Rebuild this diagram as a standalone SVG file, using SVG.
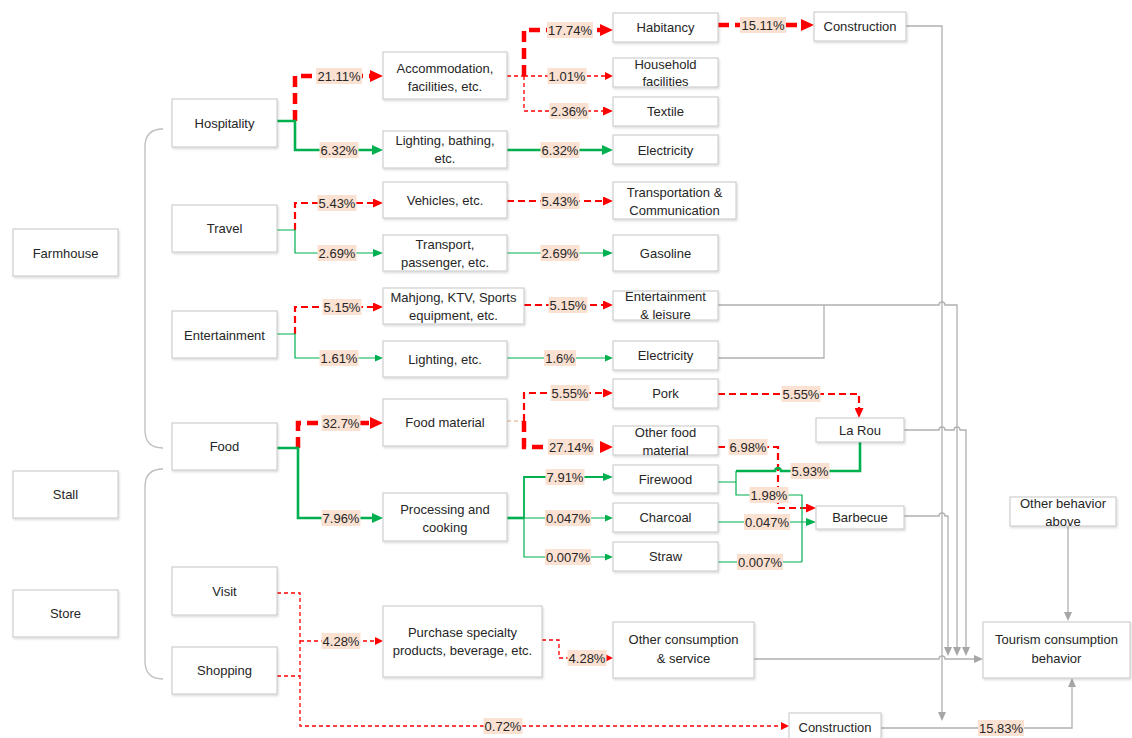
<svg xmlns="http://www.w3.org/2000/svg" width="1132" height="738" viewBox="0 0 1132 738">
<defs>
<filter id="sh" x="-10%" y="-10%" width="130%" height="140%"><feDropShadow dx="1" dy="1.5" stdDeviation="1" flood-color="#000" flood-opacity="0.15"/></filter>
<marker id="rB" markerUnits="userSpaceOnUse" markerWidth="13" markerHeight="12" refX="2" refY="6" orient="auto"><path d="M0,0 L13,6 L0,12 z" fill="#f00"/></marker>
<marker id="rM" markerUnits="userSpaceOnUse" markerWidth="10" markerHeight="9" refX="2" refY="4.5" orient="auto"><path d="M0,0 L10,4.5 L0,9 z" fill="#f00"/></marker>
<marker id="rS" markerUnits="userSpaceOnUse" markerWidth="8" markerHeight="8" refX="2" refY="4" orient="auto"><path d="M0,0 L8,4 L0,8 z" fill="#f00"/></marker>
<marker id="gB" markerUnits="userSpaceOnUse" markerWidth="11" markerHeight="10" refX="2" refY="5" orient="auto"><path d="M0,0 L11,5 L0,10 z" fill="#00b050"/></marker>
<marker id="gM" markerUnits="userSpaceOnUse" markerWidth="10" markerHeight="8" refX="2" refY="4" orient="auto"><path d="M0,0 L10,4 L0,8 z" fill="#00b050"/></marker>
<marker id="gS" markerUnits="userSpaceOnUse" markerWidth="8" markerHeight="7" refX="2" refY="3.5" orient="auto"><path d="M0,0 L8,3.5 L0,7 z" fill="#00b050"/></marker>
<marker id="ay" markerUnits="userSpaceOnUse" markerWidth="9" markerHeight="8" refX="2" refY="4" orient="auto"><path d="M0,0 L9,4 L0,8 z" fill="#a6a6a6"/></marker>
</defs>
<style>
.node rect{fill:#fff;stroke:#c6c6c6;stroke-width:1;filter:url(#sh)}
text{font-family:"Liberation Sans",Arial,sans-serif;font-size:13px;fill:#262626;text-anchor:middle}
.c path{fill:none}
.rT{stroke:#f00;stroke-width:4.5;stroke-dasharray:11 6}
.rM{stroke:#f00;stroke-width:2.2;stroke-dasharray:7 4}
.rS{stroke:#f00;stroke-width:1.3;stroke-dasharray:4 3}
.gT{stroke:#00b050;stroke-width:2.6}
.gM{stroke:#00b050;stroke-width:1.8}
.gS{stroke:#00b050;stroke-width:1.2}
.gy{stroke:#b0b0b0;stroke-width:1.3}
.tan{stroke:#d9a77f;stroke-width:1;stroke-dasharray:4 3}
.lbl rect{fill:#fbe1d2}
.brace{fill:none;stroke:#bdbdbd;stroke-width:1.3}
</style>
<rect width="1132" height="738" fill="#fff"/>
<g id="braces">
<path class="brace" d="M163,129 Q145,129 145,147 V430 Q145,448 163,448"/>
<path class="brace" d="M163,469 Q145,469 145,487 V661 Q145,679 163,679"/>
</g>
<g id="connectors" class="c">
<path class="rT" d="M295,121 V76 H372" marker-end="url(#rB)"/>
<path class="gT" d="M277,121 H295 V150 H374" marker-end="url(#gB)"/>
<path class="rM" d="M295,230 V203 H375" marker-end="url(#rM)"/>
<path class="gS" d="M277,230 H295 V253 H375" marker-end="url(#gM)"/>
<path class="rM" d="M295,334 V307 H375" marker-end="url(#rM)"/>
<path class="gS" d="M277,334 H295 V358 H377" marker-end="url(#gS)"/>
<path class="rT" d="M298,448 V423 H372" marker-end="url(#rB)"/>
<path class="gT" d="M277,448 H298 V518 H374" marker-end="url(#gB)"/>
<path class="rS" d="M277,593 H300 V726 H783" marker-end="url(#rS)"/>
<path class="rS" d="M277,676 H300"/>
<path class="rS" d="M300,641 H377" marker-end="url(#rS)"/>
<path class="rS" d="M542,640 H559 V658 H607" marker-end="url(#rS)"/>
<path class="rS" d="M507,76 H524"/>
<path class="rT" d="M524,76 V30 H602" marker-end="url(#rB)"/>
<path class="rS" d="M524,76 H607" marker-end="url(#rS)"/>
<path class="rS" d="M524,76 V111 H605" marker-end="url(#rM)"/>
<path class="gT" d="M507,150 H604" marker-end="url(#gB)"/>
<path class="rM" d="M507,201 H605" marker-end="url(#rM)"/>
<path class="gS" d="M507,253 H605" marker-end="url(#gM)"/>
<path class="rM" d="M524,305 H605" marker-end="url(#rM)"/>
<path class="gS" d="M507,358 H607" marker-end="url(#gS)"/>
<path class="tan" d="M507,421 H524"/>
<path class="rM" d="M524,421 V393 H605" marker-end="url(#rM)"/>
<path class="rT" d="M524,421 V447 H602" marker-end="url(#rB)"/>
<path class="gT" d="M507,518 H524"/>
<path class="gM" d="M524,518 V477 H605" marker-end="url(#gM)"/>
<path class="gS" d="M524,518 H607" marker-end="url(#gS)"/>
<path class="gS" d="M524,518 V557 H607" marker-end="url(#gS)"/>
<path class="rT" d="M718,25 H803" marker-end="url(#rB)"/>
<path class="rM" d="M718,394 H859 V410" marker-end="url(#rM)"/>
<path class="rM" d="M718,447 H778 V508 H808" marker-end="url(#rM)"/>
<path class="gS" d="M718,482 H736 V471"/>
<path class="gT" d="M736,471 H775 a3,3 0 0 1 6,0 H860 V433" marker-end="url(#gB)"/>
<path class="gS" d="M736,482 V495 H802 V562"/>
<path class="gS" d="M718,522 H808" marker-end="url(#gM)"/>
<path class="gS" d="M718,562 H802"/>
<path class="gy" d="M906,26 H942 V714" marker-end="url(#ay)"/>
<path class="gy" d="M718,305 H939 a3,3 0 0 1 6,0 H957 V649" marker-end="url(#ay)"/>
<path class="gy" d="M718,358 H824 V305"/>
<path class="gy" d="M904,430 H939 a3,3 0 0 1 6,0 H954 a3,3 0 0 1 6,0 H966 V649" marker-end="url(#ay)"/>
<path class="gy" d="M904,516 H939 a3,3 0 0 1 6,0 H948 V649" marker-end="url(#ay)"/>
<path class="gy" d="M754,659 H939 a3,3 0 0 1 6,0 H976" marker-end="url(#ay)"/>
<path class="gy" d="M881,728 H1072 V685" marker-end="url(#ay)"/>
<path class="gy" d="M1068,526 V614" marker-end="url(#ay)"/>
<g class="lbl">
<rect x="316" y="68" width="46" height="16"/><text x="339" y="80.5">21.11%</text>
<rect x="319.5" y="142" width="39" height="16"/><text x="339" y="154.5">6.32%</text>
<rect x="317.5" y="195" width="39" height="16"/><text x="337" y="207.5">5.43%</text>
<rect x="317.5" y="245" width="39" height="16"/><text x="337" y="257.5">2.69%</text>
<rect x="322.5" y="299" width="39" height="16"/><text x="342" y="311.5">5.15%</text>
<rect x="319.5" y="350" width="39" height="16"/><text x="339" y="362.5">1.61%</text>
<rect x="321.5" y="415" width="39" height="16"/><text x="341" y="427.5">32.7%</text>
<rect x="321.5" y="510" width="39" height="16"/><text x="341" y="522.5">7.96%</text>
<rect x="321.5" y="633" width="39" height="16"/><text x="341" y="645.5">4.28%</text>
<rect x="547" y="22" width="46" height="16"/><text x="570" y="34.5">17.74%</text>
<rect x="547.5" y="68" width="39" height="16"/><text x="567" y="80.5">1.01%</text>
<rect x="549.5" y="103" width="39" height="16"/><text x="569" y="115.5">2.36%</text>
<rect x="540.5" y="142" width="39" height="16"/><text x="560" y="154.5">6.32%</text>
<rect x="540.5" y="193" width="39" height="16"/><text x="560" y="205.5">5.43%</text>
<rect x="540.5" y="245" width="39" height="16"/><text x="560" y="257.5">2.69%</text>
<rect x="548.5" y="297" width="39" height="16"/><text x="568" y="309.5">5.15%</text>
<rect x="544" y="350" width="32" height="16"/><text x="560" y="362.5">1.6%</text>
<rect x="550.5" y="385" width="39" height="16"/><text x="570" y="397.5">5.55%</text>
<rect x="548" y="439" width="46" height="16"/><text x="571" y="451.5">27.14%</text>
<rect x="545.5" y="469" width="39" height="16"/><text x="565" y="481.5">7.91%</text>
<rect x="545" y="510" width="46" height="16"/><text x="568" y="522.5">0.047%</text>
<rect x="545" y="549" width="46" height="16"/><text x="568" y="561.5">0.007%</text>
<rect x="567.5" y="650" width="39" height="16"/><text x="587" y="662.5">4.28%</text>
<rect x="483.5" y="718" width="39" height="16"/><text x="503" y="730.5">0.72%</text>
<rect x="740" y="17" width="46" height="16"/><text x="763" y="29.5">15.11%</text>
<rect x="781.5" y="386" width="39" height="16"/><text x="801" y="398.5">5.55%</text>
<rect x="728.5" y="439" width="39" height="16"/><text x="748" y="451.5">6.98%</text>
<rect x="790.5" y="463" width="39" height="16"/><text x="810" y="475.5">5.93%</text>
<rect x="749.5" y="487" width="39" height="16"/><text x="769" y="499.5">1.98%</text>
<rect x="744" y="514" width="46" height="16"/><text x="767" y="526.5">0.047%</text>
<rect x="737" y="554" width="46" height="16"/><text x="760" y="566.5">0.007%</text>
<rect x="978" y="720" width="46" height="16"/><text x="1001" y="732.5">15.83%</text>
</g>
</g>
<g id="n-farmhouse" class="node"><rect x="13" y="229" width="105" height="47"/><text x="65.5" y="257.5">Farmhouse</text></g>
<g id="n-stall" class="node"><rect x="13" y="471" width="105" height="47"/><text x="65.5" y="498.5">Stall</text></g>
<g id="n-store" class="node"><rect x="13" y="590" width="105" height="47"/><text x="65.5" y="617.5">Store</text></g>
<g id="n-hospitality" class="node"><rect x="172" y="99" width="105" height="48"/><text x="224.5" y="127.5">Hospitality</text></g>
<g id="n-travel" class="node"><rect x="172" y="205" width="105" height="47"/><text x="224.5" y="232.5">Travel</text></g>
<g id="n-entertainment" class="node"><rect x="172" y="311" width="105" height="47"/><text x="224.5" y="339.5">Entertainment</text></g>
<g id="n-food" class="node"><rect x="172" y="423" width="105" height="47"/><text x="224.5" y="450.5">Food</text></g>
<g id="n-visit" class="node"><rect x="172" y="567" width="105" height="48"/><text x="224.5" y="595.5">Visit</text></g>
<g id="n-shopping" class="node"><rect x="172" y="647" width="105" height="47"/><text x="224.5" y="674.5">Shopping</text></g>
<g id="n-accommodation" class="node"><rect x="383" y="52" width="124" height="47"/><text x="445" y="72.5">Accommodation,</text><text x="445" y="90.5">facilities, etc.</text></g>
<g id="n-lighting-bathing" class="node"><rect x="383" y="131" width="124" height="37"/><text x="445" y="144.5">Lighting, bathing,</text><text x="445" y="162.5">etc.</text></g>
<g id="n-vehicles" class="node"><rect x="383" y="182" width="124" height="36"/><text x="445" y="204.5">Vehicles, etc.</text></g>
<g id="n-transport" class="node"><rect x="383" y="235" width="124" height="36"/><text x="445" y="248.5">Transport,</text><text x="445" y="266.5">passenger, etc.</text></g>
<g id="n-mahjong" class="node"><rect x="383" y="288" width="141" height="36"/><text x="453.5" y="301.5">Mahjong, KTV, Sports</text><text x="453.5" y="319.5">equipment, etc.</text></g>
<g id="n-lighting" class="node"><rect x="383" y="341" width="124" height="36"/><text x="445" y="363.5">Lighting, etc.</text></g>
<g id="n-food-material" class="node"><rect x="383" y="399" width="124" height="47"/><text x="445" y="426.5">Food material</text></g>
<g id="n-processing" class="node"><rect x="383" y="493" width="124" height="48"/><text x="445" y="513.5">Processing and</text><text x="445" y="531.5">cooking</text></g>
<g id="n-purchase" class="node"><rect x="383" y="606" width="159" height="71"/><text x="462.5" y="636.5">Purchase specialty</text><text x="462.5" y="654.5">products, beverage, etc.</text></g>
<g id="n-habitancy" class="node"><rect x="613" y="13" width="105" height="29"/><text x="665.5" y="31.5">Habitancy</text></g>
<g id="n-household" class="node"><rect x="613" y="58" width="105" height="29"/><text x="665.5" y="69">Household</text><text x="665.5" y="86">facilities</text></g>
<g id="n-textile" class="node"><rect x="613" y="97" width="105" height="29"/><text x="665.5" y="115.5">Textile</text></g>
<g id="n-electricity1" class="node"><rect x="613" y="135" width="105" height="29"/><text x="665.5" y="154.5">Electricity</text></g>
<g id="n-transportation" class="node"><rect x="613" y="182" width="123" height="37"/><text x="674.5" y="197">Transportation &amp;</text><text x="674.5" y="214.5">Communication</text></g>
<g id="n-gasoline" class="node"><rect x="613" y="235" width="105" height="36"/><text x="665.5" y="257.5">Gasoline</text></g>
<g id="n-ent-leisure" class="node"><rect x="613" y="291" width="105" height="29"/><text x="665.5" y="300.5">Entertainment</text><text x="665.5" y="318.5">&amp; leisure</text></g>
<g id="n-electricity2" class="node"><rect x="613" y="341" width="105" height="29"/><text x="665.5" y="359.5">Electricity</text></g>
<g id="n-pork" class="node"><rect x="613" y="379" width="105" height="29"/><text x="665.5" y="397.5">Pork</text></g>
<g id="n-other-food" class="node"><rect x="613" y="426" width="105" height="29"/><text x="665.5" y="436.5">Other food</text><text x="665.5" y="454.5">material</text></g>
<g id="n-firewood" class="node"><rect x="613" y="465" width="105" height="28"/><text x="665.5" y="483.5">Firewood</text></g>
<g id="n-charcoal" class="node"><rect x="613" y="503" width="105" height="29"/><text x="665.5" y="521.5">Charcoal</text></g>
<g id="n-straw" class="node"><rect x="613" y="542" width="105" height="29"/><text x="665.5" y="560.5">Straw</text></g>
<g id="n-other-consumption" class="node"><rect x="613" y="622" width="141" height="56"/><text x="683.5" y="643.5">Other consumption</text><text x="683.5" y="662.5">&amp; service</text></g>
<g id="n-construction1" class="node"><rect x="814" y="12" width="92" height="29"/><text x="860" y="30.5">Construction</text></g>
<g id="n-larou" class="node"><rect x="816" y="418" width="88" height="24"/><text x="860" y="434.5">La Rou</text></g>
<g id="n-barbecue" class="node"><rect x="816" y="506" width="88" height="23"/><text x="860" y="521.5">Barbecue</text></g>
<g id="n-construction2" class="node"><rect x="789" y="713" width="92" height="32"/><text x="835" y="731.5">Construction</text></g>
<g id="n-other-behavior" class="node"><rect x="1010" y="497" width="106" height="29"/><text x="1063" y="507.5">Other behavior</text><text x="1063" y="525.5">above</text></g>
<g id="n-tourism" class="node"><rect x="983" y="622" width="147" height="56"/><text x="1056.5" y="643.5">Tourism consumption</text><text x="1056.5" y="662.5">behavior</text></g>
</svg>
